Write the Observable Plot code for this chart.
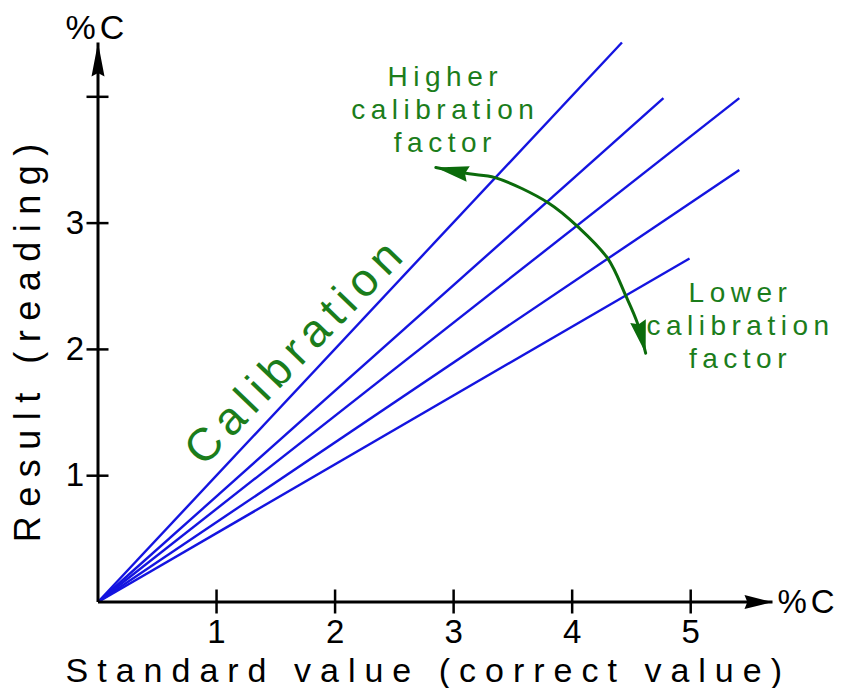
<!DOCTYPE html>
<html><head><meta charset="utf-8">
<script src="https://cdn.jsdelivr.net/npm/d3@7"></script>
<script src="https://cdn.jsdelivr.net/npm/@observablehq/plot@0.6"></script>
<style>
html,body{margin:0;padding:0;background:#fff;}
#chart svg{display:block;}
g[aria-description="xlabel"] text{letter-spacing:9px;}
g[aria-description="ylabel"] text{letter-spacing:9.5px;}
g[aria-description="note"] text{letter-spacing:5.5px;}
g[aria-description="calib"] text{letter-spacing:7px;}
g[aria-description="unit"] text{letter-spacing:4px;}
g[aria-label="x-axis tick label"] text, g[aria-label="y-axis tick label"] text{font-size:33px;}
</style></head><body><div id="chart"></div>
<script>
// Calibration lines: end points (standard value, reading), all starting at origin
const lineEndX = [4.42, 4.77, 5.41, 5.41, 4.99];
const lineEndY = [4.43, 3.99, 3.99, 3.42, 2.72];
// Curved double arrow (higher <-> lower calibration factor)
const arcX = [2.85, 3.13, 3.35, 3.80, 4.05, 4.30, 4.45, 4.55, 4.62];
const arcY = [3.44, 3.39, 3.36, 3.16, 2.97, 2.72, 2.43, 2.21, 1.97];
// Axes
const xTicks = [1, 2, 3, 4, 5];
const yTicks = [1, 2, 3, 4];
const yTickLabels = [1, 2, 3];
const xAxisEnd = 5.69;
const yAxisEnd = 4.43;
// Texts
const xLabel = "Standard value (correct value)";
const yLabel = "Result (reading)";
const unitLabel = "%C";
const higherText = "Higher\ncalibration\nfactor";
const lowerText = "Lower\ncalibration\nfactor";
const calibText = "Calibration";

const lines = lineEndX.map((x, i) => ({x, y: lineEndY[i]}));
const arc = arcX.map((x, i) => ({x, y: arcY[i]}));

const blue = "#1414e0";
const green = "#1b7d1b";
const darkGreen = "#0b6b0b";

const svg = Plot.plot({
  width: 842,
  height: 688,
  marginLeft: 97.5,
  marginRight: 70,
  marginTop: 42,
  marginBottom: 86.5,
  x: {domain: [0, xAxisEnd]},
  y: {domain: [0, yAxisEnd]},
  style: {fontFamily: "'Liberation Sans', Arial, sans-serif", fontSize: "33px", background: "#fff", color: "#000", overflow: "visible"},
  marks: [
    // calibration lines
    Plot.link(lines, {x1: 0, y1: 0, x2: "x", y2: "y", stroke: blue, strokeWidth: 2.4}),
    // axes lines
    Plot.link([0], {x1: 0, y1: 0, x2: xAxisEnd, y2: 0, stroke: "#000", strokeWidth: 3, ariaDescription: "xaxisline"}),
    Plot.link([0], {x1: 0, y1: 0, x2: 0, y2: yAxisEnd, stroke: "#000", strokeWidth: 3, ariaDescription: "yaxisline"}),
    // ticks
    Plot.axisX({ticks: xTicks, tickSize: 24, dy: -12, tickFormat: () => "", label: null, strokeWidth: 2.5}),
    Plot.axisY({ticks: yTicks, tickSize: 22, dx: 11, tickFormat: () => "", label: null, strokeWidth: 2.5}),
    // tick labels
    Plot.axisX({ticks: xTicks, tickSize: 0, tickPadding: 18, tickFormat: "d", label: null, fontSize: 33}),
    Plot.axisY({ticks: yTickLabels, tickSize: 0, tickPadding: 14, tickFormat: "d", label: null, fontSize: 33}),
    // axis labels
    Plot.text([xLabel], {frameAnchor: "bottom", dy: 79.5, dx: -7, textAnchor: "middle", lineAnchor: "bottom", fontSize: 34, fill: "#000", ariaDescription: "xlabel"}),
    Plot.text([yLabel], {frameAnchor: "left", dx: -70, dy: 16, rotate: -90, textAnchor: "middle", lineAnchor: "middle", fontSize: 36, fill: "#000", ariaDescription: "ylabel"}),
    // unit labels
    Plot.text([unitLabel], {x: 0, y: yAxisEnd, dy: -4, dx: -1, lineAnchor: "bottom", textAnchor: "middle", fontSize: 34, fill: "#000", ariaDescription: "unit"}),
    Plot.text([unitLabel], {x: xAxisEnd, y: 0, dx: 5, lineAnchor: "middle", textAnchor: "start", fontSize: 33, fill: "#000", ariaDescription: "unit"}),
    // arc
    Plot.line(arc, {x: "x", y: "y", curve: "catmull-rom", stroke: darkGreen, strokeWidth: 3, ariaDescription: "arc"}),
    // annotations
    Plot.text([higherText], {x: 2.93, y: 3.91, textAnchor: "middle", lineAnchor: "middle", lineHeight: 1.18, fontSize: 28, fill: green, ariaDescription: "note"}),
    Plot.text([lowerText], {x: 5.42, y: 2.20, textAnchor: "middle", lineAnchor: "middle", lineHeight: 1.18, fontSize: 28, fill: green, ariaDescription: "note"}),
    Plot.text([calibText], {x: 1.67, y: 1.99, rotate: -46, textAnchor: "middle", lineAnchor: "middle", fontSize: 46, fill: green, ariaDescription: "calib"})
  ]
});

document.getElementById("chart").appendChild(svg);

// filled arrowheads
const s = d3.select(svg);
const defs = s.insert("defs", ":first-child");
function marker(id, len, hw, color) {
  defs.append("marker")
    .attr("id", id)
    .attr("markerUnits", "userSpaceOnUse")
    .attr("viewBox", `${-len - 2} ${-hw - 2} ${len + 4} ${2 * hw + 4}`)
    .attr("markerWidth", len + 4)
    .attr("markerHeight", 2 * hw + 4)
    .attr("refX", 0).attr("refY", 0)
    .attr("orient", "auto-start-reverse")
    .append("path")
    .attr("d", `M0,0L${-len},${-hw}L${-len * 0.9},0L${-len},${hw}Z`)
    .attr("fill", color);
}
marker("ahX", 28, 7, "#000");
marker("ahY", 34, 6.5, "#000");
marker("ahArc", 33, 8, darkGreen);
s.selectAll('g[aria-description="xaxisline"] path').attr("marker-end", "url(#ahX)");
s.selectAll('g[aria-description="yaxisline"] path').attr("marker-end", "url(#ahY)");
s.selectAll('g[aria-description="arc"] path').attr("marker-start", "url(#ahArc)").attr("marker-end", "url(#ahArc)");
</script>
</body></html>
